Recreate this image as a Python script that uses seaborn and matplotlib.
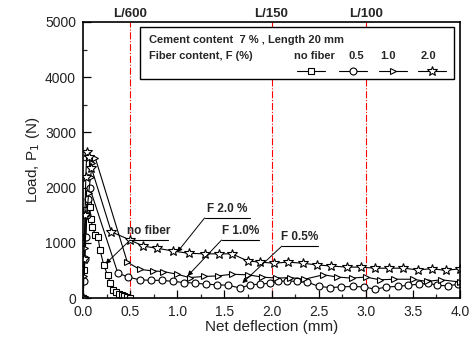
import numpy as np
import pandas as pd
import matplotlib
matplotlib.use('Agg')
import matplotlib.pyplot as plt
import matplotlib.transforms as mtransforms
from matplotlib.patches import Rectangle
import seaborn as sns

# Data (net deflection in mm, load in N)
nofiber_x = [0.0, 0.01, 0.02, 0.03, 0.05, 0.07, 0.085, 0.10, 0.13, 0.16, 0.18, 0.22, 0.26, 0.29,
             0.32, 0.35, 0.38, 0.41, 0.44, 0.47, 0.50]
nofiber_y = [0, 500, 1100, 1600, 1750, 1650, 1430, 1280, 1150, 1100, 870, 600, 420, 270,
             150, 100, 70, 50, 30, 15, 5]

f05_x = [0.0, 0.01, 0.02, 0.03, 0.04, 0.05, 0.07, 0.37, 0.48, 0.60, 0.72, 0.84, 0.96, 1.07, 1.19,
         1.30, 1.42, 1.54, 1.67, 1.77, 1.88, 1.98, 2.07, 2.16, 2.27, 2.38, 2.50, 2.62, 2.74,
         2.86, 2.98, 3.10, 3.22, 3.34, 3.45, 3.56, 3.66, 3.76, 3.87, 3.98]
f05_y = [0, 300, 700, 1100, 1500, 1800, 2000, 450, 380, 330, 320, 320, 300, 280, 270,
         250, 240, 230, 180, 240, 250, 270, 300, 310, 300, 290, 210, 190, 200,
         210, 200, 160, 200, 210, 230, 250, 270, 230, 220, 250]

f10_x = [0.0, 0.01, 0.02, 0.04, 0.06, 0.08, 0.10, 0.13, 0.47, 0.60, 0.74, 0.85, 1.00, 1.13,
         1.28, 1.43, 1.58, 1.75, 1.90, 2.05, 2.20, 2.35, 2.55, 2.70, 2.85, 3.00, 3.15,
         3.30, 3.50, 3.65, 3.80, 4.00]
f10_y = [0, 400, 900, 1500, 1900, 2200, 2450, 2540, 650, 520, 490, 480, 430, 370,
         390, 400, 430, 420, 380, 360, 370, 340, 420, 380, 360, 380, 330,
         340, 340, 300, 330, 290]

f20_x = [0.0, 0.01, 0.02, 0.03, 0.04, 0.06, 0.09, 0.30, 0.50, 0.64, 0.79, 0.96, 1.12, 1.29,
         1.44, 1.58, 1.75, 1.88, 2.03, 2.17, 2.33, 2.48, 2.63, 2.80, 2.95, 3.10, 3.25,
         3.40, 3.55, 3.70, 3.85, 4.00]
f20_y = [0, 700, 1500, 2200, 2650, 2550, 2350, 1200, 1050, 940, 900, 850, 810, 800,
         800, 800, 670, 650, 630, 650, 630, 600, 580, 560, 560, 540, 540,
         540, 510, 530, 500, 530]

series = [
    ('no fiber', nofiber_x, nofiber_y, 's'),
    ('0.5', f05_x, f05_y, 'o'),
    ('1.0', f10_x, f10_y, '>'),
    ('2.0', f20_x, f20_y, '*'),
]

limit_x = [0.5, 2.0, 3.0]
limit_labels = ['L/600', 'L/150', 'L/100']

sns.set_style('ticks')
plt.rcParams['font.family'] = ['Liberation Sans', 'DejaVu Sans']

fig = plt.figure(figsize=(4.73, 3.47), dpi=100)
ax = fig.add_axes([0.1755, 0.1412, 0.797, 0.7954])

for name, xs, ys, mk in series:
    d = pd.DataFrame({'x': xs, 'y': ys})
    ms = 7 if mk == '*' else 5
    sns.lineplot(data=d, x='x', y='y', ax=ax, estimator=None, sort=False, color='black',
                 lw=0.8, marker=mk, markersize=ms, markerfacecolor='white',
                 markeredgecolor='black', markeredgewidth=0.8)

trans = mtransforms.blended_transform_factory(ax.transData, ax.transAxes)
for lx, lab in zip(limit_x, limit_labels):
    ax.axvline(lx, color='red', lw=0.8, ls='-.', zorder=0)
    ax.text(lx, 1.008, lab, transform=trans, ha='center', va='bottom',
            fontsize=9.5, fontweight='bold')

ax.set_xlim(0, 4)
ax.set_ylim(0, 5000)
ax.set_xticks(np.arange(0, 4.01, 0.5))
ax.set_xticks(np.arange(0, 4.01, 0.25), minor=True)
ax.set_yticks(np.arange(0, 5001, 1000))
ax.set_yticks(np.arange(0, 5001, 500), minor=True)
ax.set_xticklabels(['%.1f' % v for v in np.arange(0, 4.01, 0.5)])
ax.tick_params(which='major', direction='in', length=6, width=0.9, labelsize=10, colors='black',
               labelcolor='#222222')
ax.tick_params(axis='y', which='major', pad=5)
ax.tick_params(axis='x', which='major', pad=5)
ax.tick_params(which='minor', direction='in', length=3, width=0.9)
ax.set_xlabel('Net deflection (mm)', fontsize=11, labelpad=1, color='#222222')
ax.set_ylabel('Load, P$_1$ (N)', fontsize=11, labelpad=2, color='#222222')
for sp in ax.spines.values():
    sp.set_linewidth(1.2)
    sp.set_color('black')

# Annotations with underlined labels
notes = [
    ('no fiber', (0.5, 1050), (0.9, 1050), (0.24, 620)),
    ('F 2.0 %', (1.29, 1450), (1.77, 1450), (1.0, 830)),
    ('F 1.0%', (1.47, 1050), (1.87, 1050), (1.11, 400)),
    ('F 0.5%', (2.11, 940), (2.49, 940), (1.69, 270)),
]
for txt, p0, p1, tip in notes:
    ax.plot([p0[0], p1[0]], [p0[1], p1[1]], color='black', lw=0.8)
    ax.text((p0[0] + p1[0]) / 2, p0[1] + 60, txt, ha='center', va='bottom',
            fontsize=8.5, fontweight='bold')
    ax.annotate('', xy=tip, xytext=p0,
                arrowprops=dict(arrowstyle='-|>', color='black', lw=0.7,
                                mutation_scale=7, shrinkA=0, shrinkB=0))

# Legend box drawn manually
ax.add_patch(Rectangle((0.151, 0.793), 0.833, 0.189, transform=ax.transAxes,
                       facecolor='white', edgecolor='black', lw=1.0, zorder=5))
ax.text(0.175, 0.935, 'Cement content  7 % , Length 20 mm', transform=ax.transAxes,
        fontsize=8, fontweight='bold', va='center', zorder=6)
ax.text(0.175, 0.877, 'Fiber content, F (%)', transform=ax.transAxes,
        fontsize=8, fontweight='bold', va='center', zorder=6)
label_pos = [0.615, 0.724, 0.809, 0.915]
sample_pos = [0.605, 0.716, 0.822, 0.926]
for (name, xs, ys, mk), lp, sp in zip(series, label_pos, sample_pos):
    ax.text(lp, 0.877, name, transform=ax.transAxes, fontsize=8, fontweight='bold',
            ha='center', va='center', zorder=6)
    ms = 7 if mk == '*' else 5
    ax.plot([sp - 0.037, sp + 0.037], [0.822, 0.822], transform=ax.transAxes,
            color='black', lw=0.8, zorder=6)
    ax.plot([sp], [0.822], transform=ax.transAxes, marker=mk, markersize=ms,
            markerfacecolor='white', markeredgecolor='black', markeredgewidth=0.8,
            color='black', zorder=7)

fig.savefig('out.png', dpi=100)
